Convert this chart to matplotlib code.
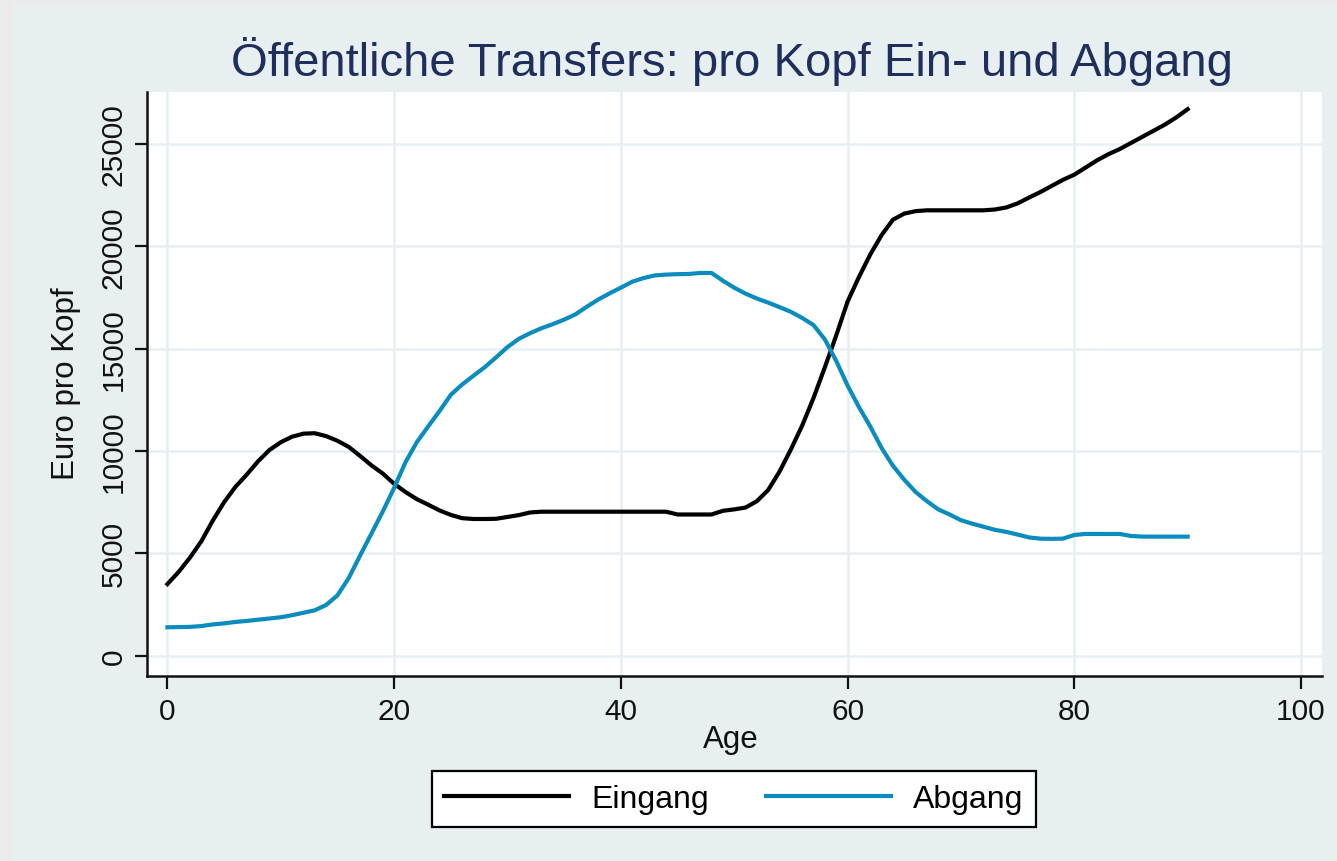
import matplotlib
matplotlib.use("Agg")
import matplotlib.pyplot as plt
from matplotlib.patches import Rectangle

ages = list(range(0, 91))
eingang = [3500, 4100, 4800, 5600, 6600, 7500, 8250, 8850, 9500, 10050,
           10430, 10700, 10850, 10870, 10730, 10500, 10200, 9760, 9300, 8900,
           8400, 8000, 7650, 7380, 7100, 6880, 6720, 6680, 6680, 6690,
           6780, 6870, 7000, 7036, 7036, 7036, 7036, 7036, 7036, 7036,
           7036, 7036, 7036, 7036, 7036, 6900, 6900, 6900, 6900, 7080,
           7150, 7240, 7550, 8100, 9000, 10080, 11250, 12600, 14100, 15650,
           17300, 18500, 19600, 20550, 21300, 21600, 21720, 21760, 21760, 21760,
           21760, 21760, 21760, 21800, 21900, 22100, 22380, 22650, 22950, 23250,
           23500, 23850, 24200, 24500, 24750, 25050, 25350, 25650, 25950, 26300,
           26700]
abgang = [1390, 1400, 1410, 1450, 1530, 1580, 1650, 1700, 1760, 1820,
          1880, 1980, 2100, 2220, 2480, 2950, 3800, 4900, 5970, 7050,
          8200, 9450, 10430, 11200, 11950, 12750, 13250, 13680, 14100, 14580,
          15080, 15480, 15760, 16000, 16200, 16420, 16680, 17050, 17400, 17700,
          17980, 18270, 18450, 18580, 18620, 18640, 18650, 18700, 18700, 18320,
          17980, 17690, 17450, 17250, 17030, 16800, 16500, 16150, 15450, 14400,
          13200, 12150, 11200, 10150, 9280, 8600, 8000, 7550, 7150, 6900,
          6620, 6450, 6300, 6150, 6050, 5920, 5780, 5720, 5710, 5720,
          5900, 5950, 5950, 5950, 5950, 5850, 5820, 5820, 5820, 5820,
          5820]
xticks = [0, 20, 40, 60, 80, 100]
yticks = [0, 5000, 10000, 15000, 20000, 25000]
title = "Öffentliche Transfers: pro Kopf Ein- und Abgang"
xlabel = "Age"
ylabel = "Euro pro Kopf"
labels = ["Eingang", "Abgang"]

W, H = 1337, 862
plt.rcParams['font.family'] = ['Liberation Sans', 'DejaVu Sans']
fig = plt.figure(figsize=(W / 100, H / 100), dpi=100)
fig.patch.set_facecolor('#ebebeb')
bg = Rectangle((12 / W, 0), 1 - 12 / W, 1 - 5 / H, transform=fig.transFigure,
               facecolor='#e8eff1', edgecolor='none', zorder=-10)
fig.patches.append(bg)

def fx(px):
    return px / W

def fy(py):
    return 1 - py / H

ax = fig.add_axes([fx(147), fy(677), (1322 - 147) / W, (677 - 93) / H])
ax.set_facecolor('white')
ax.plot(ages, eingang, color='black', lw=3.0, label=labels[0], zorder=3)
ax.plot(ages, abgang, color='#0a8cbf', lw=3.0, label=labels[1], zorder=3)
ax.set_xlim(-1.8, 101.85)
ax.set_ylim(-990, 27540)
ax.set_xticks(xticks)
ax.set_yticks(yticks)
ax.grid(True, color='#e6eff2', lw=1.8, zorder=0)
ax.set_axisbelow(True)
for s in ['top', 'right']:
    ax.spines[s].set_visible(False)
for s in ['left', 'bottom']:
    ax.spines[s].set_linewidth(1.8)
    ax.spines[s].set_color('#111111')
ax.tick_params(axis='both', length=9, width=1.6, color='#111111', direction='out',
               labelsize=21.5, labelcolor='#111111')
ax.tick_params(axis='x', pad=6)
ax.tick_params(axis='y', pad=5)
for lab in ax.get_yticklabels():
    lab.set_rotation(90)
    lab.set_va('center')

fig.text(fx(732), fy(62), title, ha='center', va='center', fontsize=34, color='#1e2f5c')
fig.text(fx(731), fy(740), xlabel, ha='center', va='center', fontsize=22.5, color='#111111')
fig.text(fx(66), fy(384), ylabel, ha='center', va='center', fontsize=22.5, rotation=90, color='#111111')

leg = fig.legend(loc='center', bbox_to_anchor=(fx(734), fy(800)), ncol=2, fontsize=23,
                 frameon=True, fancybox=False, edgecolor='black', facecolor='white',
                 handlelength=3.9, columnspacing=1.8, handletextpad=0.7, borderpad=0.4,
                 borderaxespad=0)
leg.get_frame().set_linewidth(1.6)
leg.get_frame().set_alpha(1)

fig.savefig('out.png', dpi=100, facecolor=fig.get_facecolor())
